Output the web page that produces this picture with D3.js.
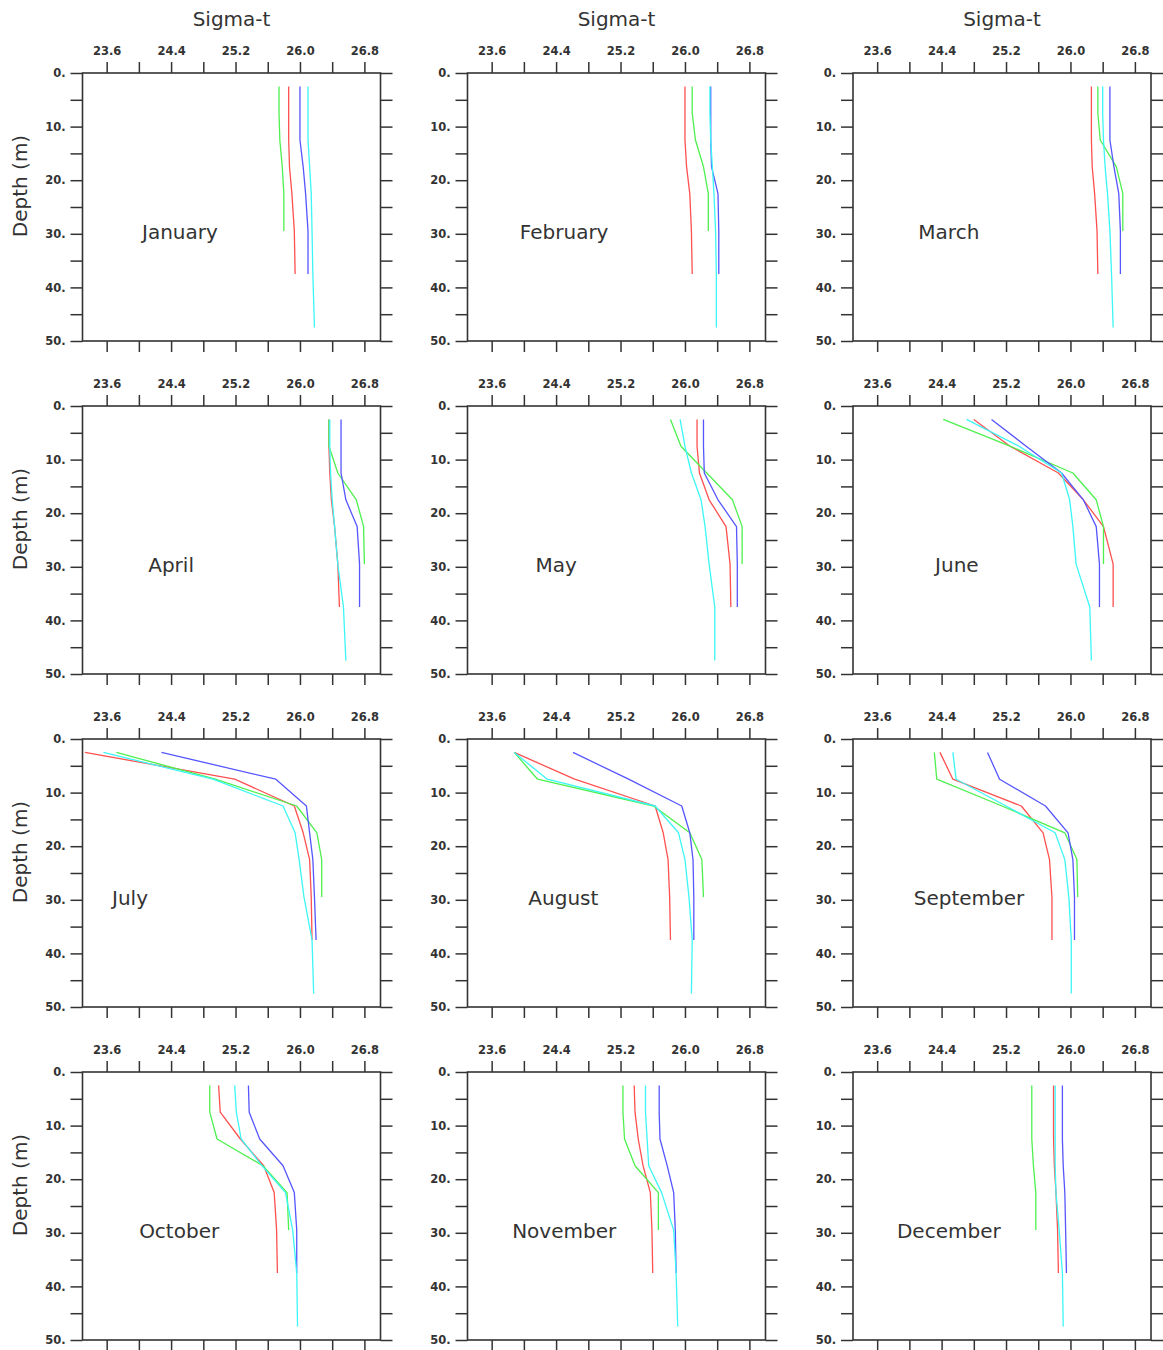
<!DOCTYPE html>
<html>
<head>
<meta charset="utf-8">
<script src="https://cdn.jsdelivr.net/npm/d3@7"></script>
<style>
  body { margin: 0; background: #fff; }
  text { font-family: "DejaVu Sans", sans-serif; }
</style>
</head>
<body>
<script>
// Monthly sigma-t profiles, four stations per month
const months = ["January", "February", "March", "April", "May", "June",
                "July", "August", "September", "October", "November", "December"];

// Depth levels (m) at which each profile is sampled
const depthLevels = [2.5, 7.5, 12.5, 17.5, 22.5, 29.5, 37.5, 47.5];
const redDepths   = depthLevels.slice(0, 7);
const greenDepths = depthLevels.slice(0, 6);
const blueDepths  = depthLevels.slice(0, 7);
const cyanDepths  = depthLevels.slice(0, 8);

const redSigma = [
  [25.86, 25.86, 25.86, 25.87, 25.90, 25.93, 25.94],
  [26.00, 26.00, 26.00, 26.02, 26.06, 26.08, 26.09],
  [26.26, 26.26, 26.26, 26.27, 26.30, 26.33, 26.34],
  [26.36, 26.36, 26.37, 26.39, 26.43, 26.47, 26.49],
  [26.15, 26.15, 26.18, 26.30, 26.51, 26.56, 26.57],
  [24.80, 25.25, 25.85, 26.16, 26.41, 26.53, 26.53],
  [23.33, 25.19, 25.93, 26.04, 26.12, 26.14, 26.15],
  [23.88, 24.63, 25.63, 25.73, 25.79, 25.81, 25.82],
  [24.38, 24.54, 25.39, 25.66, 25.74, 25.77, 25.77],
  [24.99, 25.01, 25.26, 25.55, 25.68, 25.71, 25.72],
  [25.37, 25.38, 25.42, 25.48, 25.57, 25.59, 25.60],
  [25.79, 25.79, 25.79, 25.80, 25.82, 25.84, 25.85]
];

const greenSigma = [
  [25.74, 25.74, 25.75, 25.78, 25.80, 25.80],
  [26.09, 26.09, 26.13, 26.23, 26.29, 26.29],
  [26.34, 26.34, 26.37, 26.57, 26.65, 26.65],
  [26.36, 26.36, 26.47, 26.70, 26.79, 26.80],
  [25.82, 25.95, 26.27, 26.59, 26.71, 26.71],
  [24.42, 25.25, 26.03, 26.32, 26.41, 26.41],
  [23.72, 24.95, 25.96, 26.21, 26.27, 26.27],
  [23.88, 24.17, 25.61, 26.06, 26.21, 26.23],
  [24.31, 24.34, 25.15, 25.93, 26.08, 26.09],
  [24.88, 24.88, 24.97, 25.54, 25.84, 25.86],
  [25.23, 25.23, 25.25, 25.38, 25.67, 25.67],
  [25.52, 25.52, 25.52, 25.54, 25.57, 25.57]
];

const blueSigma = [
  [26.00, 26.00, 26.00, 26.04, 26.07, 26.10, 26.10],
  [26.32, 26.32, 26.32, 26.33, 26.41, 26.42, 26.42],
  [26.49, 26.49, 26.49, 26.54, 26.60, 26.62, 26.62],
  [26.51, 26.51, 26.51, 26.57, 26.71, 26.74, 26.74],
  [26.23, 26.23, 26.24, 26.41, 26.64, 26.65, 26.65],
  [25.02, 25.45, 25.89, 26.16, 26.32, 26.36, 26.36],
  [24.28, 25.70, 26.08, 26.12, 26.16, 26.18, 26.20],
  [24.61, 25.30, 25.96, 26.06, 26.10, 26.11, 26.11],
  [24.97, 25.12, 25.69, 25.97, 26.03, 26.05, 26.05],
  [25.36, 25.37, 25.50, 25.79, 25.93, 25.96, 25.96],
  [25.68, 25.68, 25.69, 25.78, 25.86, 25.88, 25.89],
  [25.90, 25.90, 25.90, 25.91, 25.93, 25.94, 25.95]
];

const cyanSigma = [
  [26.10, 26.10, 26.10, 26.12, 26.14, 26.15, 26.16, 26.18],
  [26.31, 26.31, 26.32, 26.34, 26.36, 26.38, 26.39, 26.39],
  [26.40, 26.40, 26.41, 26.43, 26.46, 26.49, 26.51, 26.53],
  [26.37, 26.37, 26.38, 26.40, 26.43, 26.47, 26.54, 26.57],
  [25.94, 26.00, 26.08, 26.20, 26.25, 26.30, 26.37, 26.37],
  [24.71, 25.36, 25.89, 25.99, 26.03, 26.07, 26.24, 26.26],
  [23.56, 24.92, 25.79, 25.94, 25.99, 26.05, 26.15, 26.17],
  [23.88, 24.29, 25.63, 25.92, 26.00, 26.05, 26.09, 26.08],
  [24.54, 24.58, 25.20, 25.81, 25.93, 25.98, 26.01, 26.01],
  [25.19, 25.21, 25.27, 25.53, 25.82, 25.91, 25.96, 25.97],
  [25.51, 25.51, 25.53, 25.55, 25.71, 25.86, 25.89, 25.91],
  [25.81, 25.81, 25.81, 25.81, 25.82, 25.86, 25.90, 25.91]
];

// Axis ticks and labels
const sigmaTicks  = [23.6, 24.0, 24.4, 24.8, 25.2, 25.6, 26.0, 26.4, 26.8];
const sigmaLabels = [23.6, 24.4, 25.2, 26.0, 26.8];
const depthTicks  = [0, 5, 10, 15, 20, 25, 30, 35, 40, 45, 50];
const depthLabels = [0, 10, 20, 30, 40, 50];

// Month name anchor (sigma-t value at the label centre)
const monthLabelSigma = [24.51, 24.50, 24.49, 24.40, 24.40, 24.59,
                         23.89, 24.49, 24.74, 24.50, 24.50, 24.49];

// ---- layout ----
const W = 1163, H = 1350;
const colLeft = [82.5, 467.5, 853];
const rowTop = [73, 406, 739, 1072];
const pw = 298, ph = 268;
const ink = "#333";

const svg = d3.select("body").append("svg")
  .attr("width", W).attr("height", H);

const x = d3.scaleLinear().domain([23.3, 27.0]).range([0, pw]);
const y = d3.scaleLinear().domain([0, 50]).range([0, ph]);

const series = [
  { color: "#ff5050", depths: redDepths,   values: redSigma },
  { color: "#4ef04e", depths: greenDepths, values: greenSigma },
  { color: "#5656ff", depths: blueDepths,  values: blueSigma },
  { color: "#3cf6f6", depths: cyanDepths,  values: cyanSigma }
];

const line = d3.line().x(d => x(d[1])).y(d => y(d[0]));

function styleAxis(sel) {
  sel.select(".domain").remove();
  sel.selectAll(".tick line").attr("stroke", ink).attr("stroke-width", 1.5);
  sel.selectAll(".tick text")
    .attr("fill", ink)
    .style("font-family", "'DejaVu Sans', sans-serif")
    .style("font-size", "11.5px")
    .style("font-weight", "bold");
}

months.forEach((month, i) => {
  const col = i % 3, row = Math.floor(i / 3);
  const g = svg.append("g")
    .attr("transform", `translate(${colLeft[col]},${rowTop[row]})`);

  // top axis with labels
  g.append("g")
    .call(d3.axisTop(x).tickValues(sigmaTicks).tickSize(11).tickPadding(7)
      .tickFormat(d => sigmaLabels.includes(d) ? d.toFixed(1) : ""))
    .call(styleAxis);

  // bottom axis, ticks only
  g.append("g").attr("transform", `translate(0,${ph})`)
    .call(d3.axisBottom(x).tickValues(sigmaTicks).tickSize(11).tickFormat(""))
    .call(styleAxis);

  // left depth axis
  g.append("g")
    .call(d3.axisLeft(y).tickValues(depthTicks).tickSize(12).tickPadding(5)
      .tickFormat(d => depthLabels.includes(d) ? d + "." : ""))
    .call(styleAxis);

  // right axis, ticks only
  g.append("g").attr("transform", `translate(${pw},0)`)
    .call(d3.axisRight(y).tickValues(depthTicks).tickSize(12).tickFormat(""))
    .call(styleAxis);

  // frame
  g.append("rect")
    .attr("width", pw).attr("height", ph)
    .attr("fill", "none").attr("stroke", ink).attr("stroke-width", 1.6);

  // profiles
  series.forEach(s => {
    const pts = s.depths.map((d, k) => [d, s.values[i][k]]);
    g.append("path")
      .datum(pts)
      .attr("d", line)
      .attr("fill", "none")
      .attr("stroke", s.color)
      .attr("stroke-width", 1.3)
      .attr("stroke-linejoin", "round");
  });

  // month name
  g.append("text")
    .attr("x", x(monthLabelSigma[i]))
    .attr("y", y(31))
    .attr("text-anchor", "middle")
    .attr("fill", "#333")
    .style("font-size", "20px")
    .text(month);

  // column title on the top row
  if (row === 0) {
    g.append("text")
      .attr("x", pw / 2)
      .attr("y", -47)
      .attr("text-anchor", "middle")
      .attr("fill", "#333")
      .style("font-size", "20px")
      .text("Sigma-t");
  }

  // depth title on the left column
  if (col === 0) {
    g.append("text")
      .attr("transform", `translate(${27 - colLeft[0]},113) rotate(-90)`)
      .attr("text-anchor", "middle")
      .attr("fill", "#333")
      .style("font-size", "20px")
      .text("Depth (m)");
  }
});
</script>
</body>
</html>
